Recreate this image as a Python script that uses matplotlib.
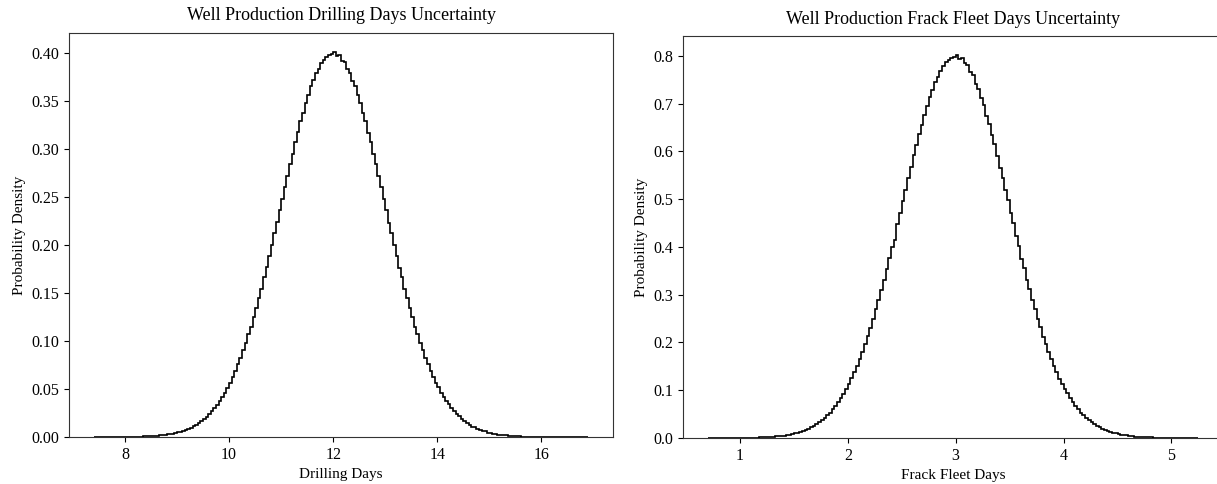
import matplotlib
matplotlib.use("Agg")
import matplotlib.pyplot as plt
import numpy as np

plt.rcParams['font.family'] = ['Liberation Serif', 'DejaVu Serif']

# bin edges of both histograms (200-ish bins)
drill_lo, drill_hi, drill_bins = 7.4, 16.9, 190
frack_lo, frack_hi, frack_bins = 0.7, 5.25, 182

# Drilling days: density per bin, left to right
drill_density = [
    0, 0, 0.00002, 0, 0.00004, 0, 0.00004, 0.00006, 0.00006, 0.00008,
    0.0001, 0.00013, 0.00014, 0.0002, 0.0002, 0.0003, 0.0003, 0.0004, 0.0005, 0.0006,
    0.0007, 0.0008, 0.0010, 0.0011, 0.0014, 0.0016, 0.0018, 0.0022, 0.0027, 0.0030,
    0.0035, 0.0042, 0.0047, 0.0056, 0.0063, 0.0075, 0.0084, 0.0098, 0.0110, 0.0128,
    0.0144, 0.0166, 0.0186, 0.0213, 0.0236, 0.0269, 0.0298, 0.0338, 0.0373, 0.0419,
    0.0461, 0.0515, 0.0565, 0.0628, 0.0686, 0.0757, 0.0823, 0.0904, 0.0978, 0.1068,
    0.1150, 0.1250, 0.1340, 0.1449, 0.1546, 0.1662, 0.1766, 0.1888, 0.1996, 0.2123,
    0.2235, 0.2363, 0.2476, 0.2605, 0.2717, 0.2843, 0.2951, 0.3071, 0.3172, 0.3287,
    0.3377, 0.3481, 0.3559, 0.3650, 0.3714, 0.3789, 0.3836, 0.3895, 0.3925, 0.3962,
    0.3974, 0.3993,
    0.4008, 0.3965, 0.3975, 0.3918, 0.3902, 0.3834, 0.3791, 0.3712, 0.3651, 0.3558,
    0.3480, 0.3376, 0.3288, 0.3170, 0.3072, 0.2949, 0.2844, 0.2716, 0.2606, 0.2474,
    0.2364, 0.2233, 0.2124, 0.1995, 0.1889, 0.1765, 0.1663, 0.1545, 0.1450, 0.1339,
    0.1252, 0.1149, 0.1069, 0.0977, 0.0905, 0.0822, 0.0758, 0.0685, 0.0629, 0.0564,
    0.0516, 0.0460, 0.0420, 0.0372, 0.0339, 0.0297, 0.0270, 0.0235, 0.0214, 0.0184,
    0.0168, 0.0142, 0.0130, 0.0108, 0.0100, 0.0082, 0.0077, 0.0061, 0.0058, 0.0045,
    0.0043, 0.0033, 0.0031, 0.0024, 0.0023, 0.0017, 0.0017, 0.0012, 0.0012, 0.0009,
    0.0008, 0.0007, 0.0005, 0.0005, 0.0004, 0.0003, 0.0003, 0.0002, 0.0002, 0.00015,
    0.00012, 0.0001, 0.00008, 0.00006, 0.00006, 0.00004, 0.00004, 0.00002, 0.00004, 0,
    0.00002, 0, 0, 0.00002, 0, 0, 0, 0.00002,
]

# Frack fleet days: density per bin, left to right
frack_density = [
    0, 0, 0.00004, 0, 0, 0.00008, 0, 0.00008, 0.00012, 0.00012,
    0.0002, 0.00024, 0.0003, 0.00036, 0.0004, 0.0005, 0.0006, 0.0008, 0.0010, 0.0012,
    0.0014, 0.0016, 0.0020, 0.0022, 0.0026, 0.0032, 0.0038, 0.0044, 0.0052, 0.0060,
    0.0072, 0.0080, 0.0098, 0.0108, 0.0130, 0.0146, 0.0172, 0.0192, 0.0224, 0.0252,
    0.0294, 0.0326, 0.0377, 0.0419, 0.0480, 0.0530, 0.0604, 0.0668, 0.0754, 0.0829,
    0.0930, 0.1022, 0.1138, 0.1248, 0.1380, 0.1506, 0.1656, 0.1798, 0.1966, 0.2126,
    0.2312, 0.2490, 0.2692, 0.2886, 0.3104, 0.3312, 0.3544, 0.3764, 0.4004, 0.4140,
    0.4482, 0.4714, 0.4964, 0.5198, 0.5446, 0.5674, 0.5914, 0.6130, 0.6358, 0.6560,
    0.6768, 0.6948, 0.7132, 0.7286, 0.7442, 0.7564, 0.7686, 0.7776, 0.7862, 0.7912,
    0.7960, 0.7972,
    0.8012, 0.7938, 0.7960, 0.7838, 0.7808, 0.7664, 0.7590, 0.7418, 0.7306, 0.7110,
    0.6968, 0.6748, 0.6580, 0.6336, 0.6150, 0.5896, 0.5660, 0.5448, 0.5190, 0.4972,
    0.4706, 0.4490, 0.4226, 0.4012, 0.3756, 0.3552, 0.3304, 0.3112, 0.2878, 0.2700,
    0.2482, 0.2318, 0.2120, 0.1970, 0.1796, 0.1660, 0.1502, 0.1384, 0.1244, 0.1140,
    0.1020, 0.0932, 0.0828, 0.0756, 0.0666, 0.0606, 0.0530, 0.0480, 0.0418, 0.0378,
    0.0326, 0.0294, 0.0250, 0.0226, 0.0190, 0.0174, 0.0144, 0.0132, 0.0108, 0.0100,
    0.0080, 0.0072, 0.0058, 0.0054, 0.0042, 0.0040, 0.0030, 0.0028, 0.0022, 0.0020,
    0.0016, 0.0014, 0.0012, 0.0010, 0.0008, 0.0006, 0.0006, 0.0004, 0.0004, 0.0003,
    0.0002, 0.0002, 0.00016, 0.00012, 0.0001, 0.00008, 0.00008, 0.00004, 0.00006, 0.00004,
]

drill_edges = np.linspace(drill_lo, drill_hi, drill_bins + 1)
frack_edges = np.linspace(frack_lo, frack_hi, frack_bins + 1)

fig = plt.figure(figsize=(12.17, 4.84), dpi=100)
ax1 = fig.add_axes([0.0567, 0.0971, 0.447, 0.835])
ax2 = fig.add_axes([0.5612, 0.095, 0.4437, 0.8306])

ax1.hist(drill_edges[:-1], bins=drill_edges, weights=drill_density,
         histtype='step', color='black', linewidth=1.2)
ax1.set_title("Well Production Drilling Days Uncertainty", fontsize=13, pad=9)
ax1.set_xlabel("Drilling Days", fontsize=11)
ax1.set_ylabel("Probability Density", fontsize=11)
ax1.tick_params(labelsize=11.5)

ax2.hist(frack_edges[:-1], bins=frack_edges, weights=frack_density,
         histtype='step', color='black', linewidth=1.2)
ax2.set_title("Well Production Frack Fleet Days Uncertainty", fontsize=13, pad=9)
ax2.set_xlabel("Frack Fleet Days", fontsize=11)
ax2.set_ylabel("Probability Density", fontsize=11)
ax2.tick_params(labelsize=11.5)

for ax in (ax1, ax2):
    for s in ax.spines.values():
        s.set_color('#333333')

fig.savefig("out.png", dpi=100)
